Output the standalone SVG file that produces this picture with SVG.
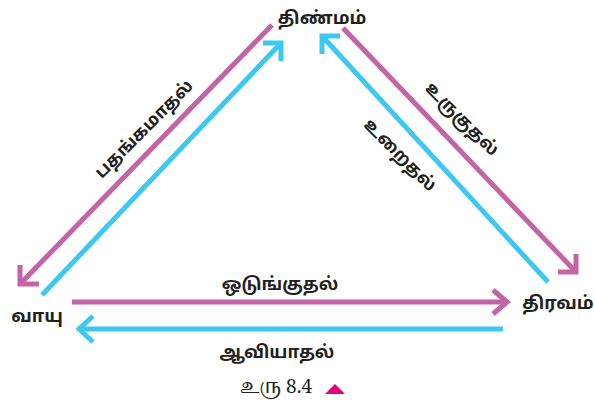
<svg xmlns="http://www.w3.org/2000/svg" width="595" height="406" viewBox="0 0 595 406">
<style>
.m{stroke:#c463a6;stroke-width:5;fill:none;stroke-linecap:butt}
.c{stroke:#3cc8f2;stroke-width:5;fill:none;stroke-linecap:butt}
.n{font-family:"Noto Sans Tamil","Noto Sans","DejaVu Sans",sans-serif;font-weight:bold;font-size:18px;fill:#231f20}
.l{font-family:"Noto Sans Tamil","Noto Sans","DejaVu Sans",sans-serif;font-weight:bold;font-size:17.5px;fill:#231f20}
.cap{font-family:"Noto Serif Tamil","Liberation Serif",serif;font-size:19px;fill:#231f20}
</style>
<rect width="595" height="406" fill="#fff"/>
<g id="connectors">
<g id="e-sublimation">
<path class="m" d="M272,25 L20,284"/>
<path class="m" d="M20,265 L20,284 L39,284"/>
</g>
<g id="e-deposition">
<path class="c" d="M42,295 L281,43"/>
<path class="c" d="M263,43 L281,43 L281,61"/>
</g>
<g id="e-melting">
<path class="m" d="M343,28 L576,272"/>
<path class="m" d="M576,254 L576,272 L558,272"/>
</g>
<g id="e-freezing">
<path class="c" d="M548,282 L322,36"/>
<path class="c" d="M340,36 L322,36 L322,54"/>
</g>
<g id="e-condensation">
<path class="m" d="M72,302 L507,302"/>
<path class="m" d="M493,290 L507,302 L493,314"/>
</g>
<g id="e-evaporation">
<path class="c" d="M503,329 L79,329"/>
<path class="c" d="M93,316 L79,329 L93,342"/>
</g>
</g>
<g id="solid"><text class="n" x="322" y="24" text-anchor="middle">திண்மம்</text></g>
<g id="gas"><text class="n" x="37" y="322" text-anchor="middle">வாயு</text></g>
<g id="liquid"><text class="n" x="558" y="309" text-anchor="middle">திரவம்</text></g>
<g id="labels">
<text class="l" transform="translate(148,133) rotate(-45)" text-anchor="middle">பதங்கமாதல்</text>
<text class="l" transform="translate(458,123) rotate(45)" text-anchor="middle">உருகுதல்</text>
<text class="l" transform="translate(396,159) rotate(45)" text-anchor="middle">உறைதல்</text>
<text class="l" x="280" y="290" text-anchor="middle">ஒடுங்குதல்</text>
<text class="l" x="277" y="358" text-anchor="middle">ஆவியாதல்</text>
</g>
<g id="caption">
<text class="cap" x="276" y="393" text-anchor="middle">உரு 8.4</text>
<polygon points="325,394 335,384 345,394" fill="#e6007e"/>
</g>
</svg>
